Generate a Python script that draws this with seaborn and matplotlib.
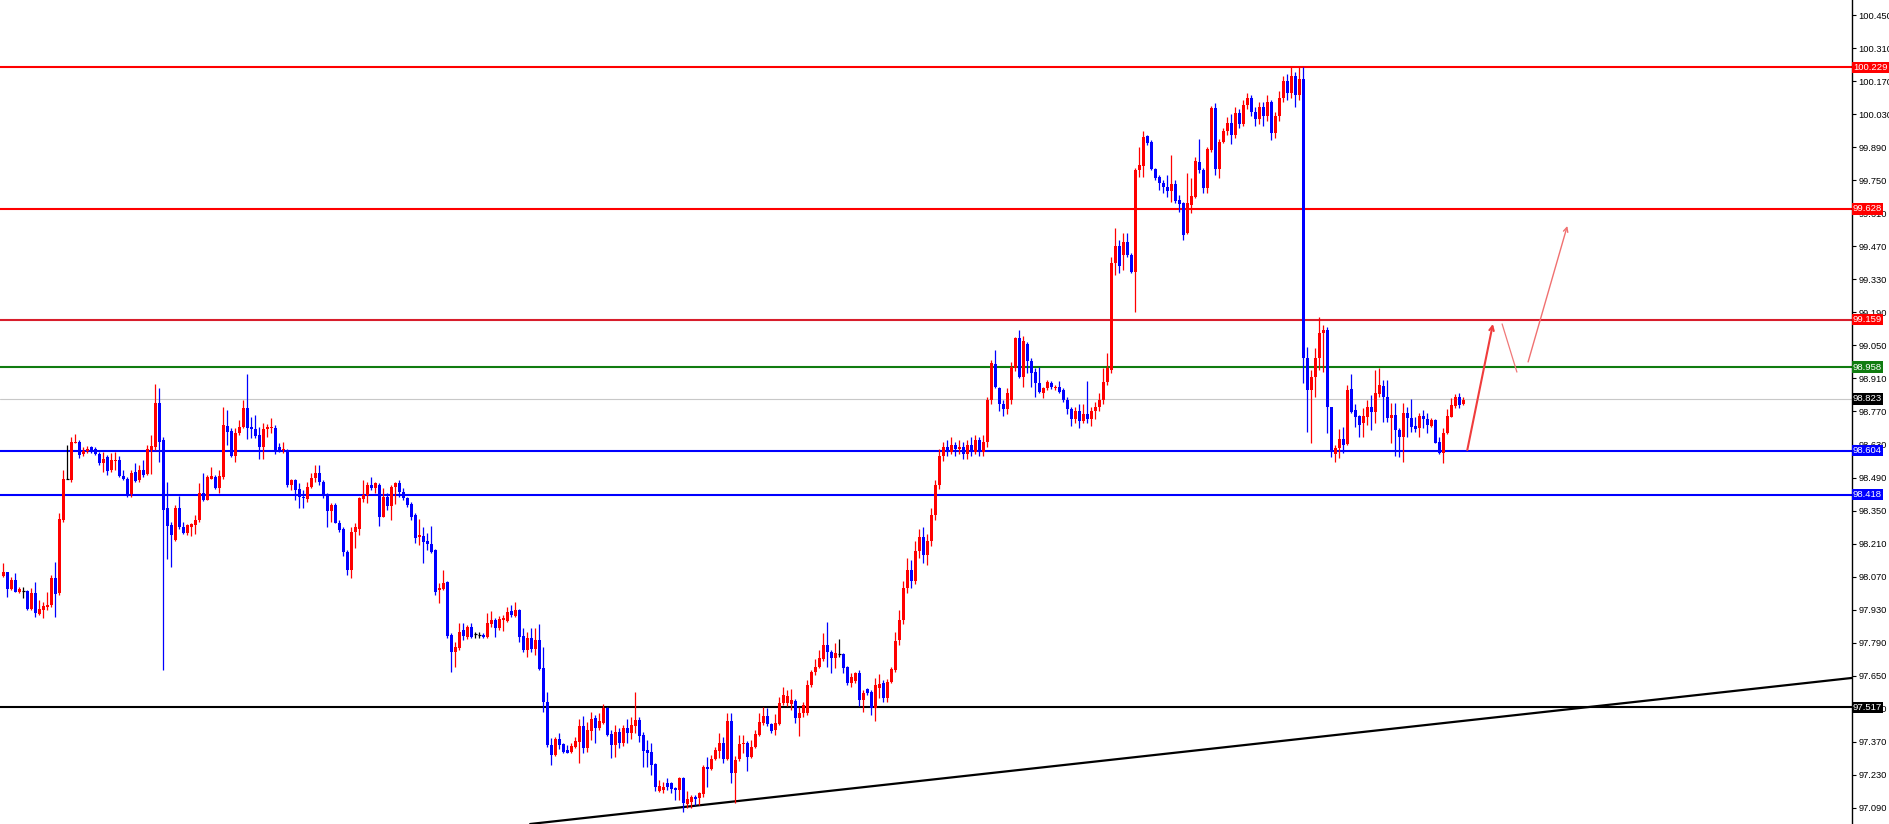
import numpy as np
import pandas as pd
import seaborn as sns
import matplotlib.pyplot as plt
import matplotlib.transforms as mtransforms

# candle data, one entry per bar
opens = [
    98.073, 98.088, 98.016, 98.056, 98.006, 98.010, 98.009, 97.934, 97.999, 97.911,
    97.928, 97.943, 97.950, 98.063, 97.999, 98.310, 98.486, 98.479, 98.635, 98.642,
    98.589, 98.604, 98.618, 98.613, 98.589, 98.553, 98.575, 98.522, 98.562, 98.564,
    98.498, 98.486, 98.420, 98.515, 98.480, 98.522, 98.507, 98.606, 98.621, 98.804,
    98.649, 98.359, 98.289, 98.225, 98.362, 98.282, 98.253, 98.282, 98.289, 98.310,
    98.423, 98.397, 98.486, 98.493, 98.444, 98.493, 98.708, 98.688, 98.581, 98.677,
    98.705, 98.783, 98.705, 98.694, 98.670, 98.618, 98.694, 98.700, 98.702, 98.621,
    98.606, 98.606, 98.458, 98.479, 98.440, 98.409, 98.398, 98.451, 98.490, 98.510,
    98.473, 98.416, 98.350, 98.374, 98.299, 98.270, 98.176, 98.098, 98.261, 98.270,
    98.398, 98.416, 98.459, 98.444, 98.459, 98.324, 98.409, 98.370, 98.451, 98.466,
    98.430, 98.402, 98.377, 98.331, 98.237, 98.242, 98.222, 98.209, 98.183, 98.014,
    98.016, 98.049, 97.823, 97.752, 97.767, 97.844, 97.816, 97.855, 97.827, 97.823,
    97.823, 97.813, 97.870, 97.886, 97.851, 97.886, 97.884, 97.924, 97.903, 97.929,
    97.819, 97.759, 97.809, 97.762, 97.802, 97.682, 97.540, 97.357, 97.314, 97.381,
    97.361, 97.335, 97.329, 97.350, 97.371, 97.437, 97.343, 97.418, 97.470, 97.427,
    97.451, 97.512, 97.403, 97.357, 97.413, 97.364, 97.427, 97.406, 97.437, 97.463,
    97.399, 97.336, 97.329, 97.275, 97.163, 97.166, 97.194, 97.197, 97.173, 97.166,
    97.216, 97.107, 97.117, 97.138, 97.131, 97.149, 97.265, 97.254, 97.296, 97.333,
    97.364, 97.296, 97.460, 97.237, 97.296, 97.361, 97.367, 97.308, 97.347, 97.399,
    97.452, 97.480, 97.446, 97.420, 97.446, 97.533, 97.533, 97.530, 97.545, 97.470,
    97.491, 97.491, 97.611, 97.664, 97.689, 97.720, 97.781, 97.752, 97.724, 97.742,
    97.742, 97.686, 97.621, 97.629, 97.663, 97.548, 97.593, 97.583, 97.512, 97.597,
    97.618, 97.555, 97.625, 97.675, 97.800, 97.886, 98.020, 98.100, 98.050, 98.180,
    98.240, 98.160, 98.220, 98.330, 98.460, 98.580, 98.620, 98.600, 98.630, 98.610,
    98.620, 98.590, 98.630, 98.600, 98.650, 98.600, 98.640, 98.819, 98.971, 98.868,
    98.800, 98.780, 98.819, 98.953, 99.080, 98.918, 99.056, 98.985, 98.939, 98.889,
    98.850, 98.868, 98.892, 98.868, 98.875, 98.861, 98.819, 98.780, 98.740, 98.770,
    98.730, 98.760, 98.740, 98.770, 98.790, 98.819, 98.896, 98.946, 99.398, 99.471,
    99.433, 99.490, 99.433, 99.362, 99.793, 99.810, 99.937, 99.913, 99.796, 99.762,
    99.740, 99.723, 99.706, 99.734, 99.666, 99.655, 99.525, 99.645, 99.677, 99.829,
    99.793, 99.716, 99.878, 100.055, 99.796, 99.913, 99.960, 99.994, 99.942, 100.036,
    99.990, 100.070, 100.100, 100.040, 100.010, 100.060, 100.020, 100.080, 99.950, 100.020,
    100.100, 100.170, 100.120, 100.190, 100.110, 100.180, 98.995, 98.861, 98.918, 98.995,
    99.101, 99.115, 98.788, 98.590, 98.614, 98.652, 98.632, 98.864, 98.776, 98.751,
    98.720, 98.748, 98.791, 98.769, 98.843, 98.878, 98.833, 98.741, 98.755, 98.692,
    98.663, 98.762, 98.741, 98.709, 98.699, 98.751, 98.737, 98.709, 98.734, 98.642,
    98.593, 98.678, 98.748, 98.793, 98.833, 98.800,
]
highs = [
    98.129, 98.091, 98.070, 98.084, 98.027, 98.027, 98.013, 98.020, 98.049, 97.971,
    97.964, 98.005, 98.077, 98.133, 98.341, 98.522, 98.628, 98.663, 98.674, 98.649,
    98.621, 98.623, 98.623, 98.621, 98.599, 98.599, 98.585, 98.595, 98.599, 98.581,
    98.524, 98.493, 98.524, 98.553, 98.543, 98.564, 98.628, 98.670, 98.886, 98.868,
    98.663, 98.472, 98.303, 98.373, 98.411, 98.303, 98.293, 98.298, 98.331, 98.465,
    98.508, 98.500, 98.533, 98.500, 98.522, 98.790, 98.776, 98.698, 98.698, 98.736,
    98.818, 98.929, 98.748, 98.755, 98.705, 98.722, 98.719, 98.741, 98.712, 98.635,
    98.642, 98.609, 98.482, 98.482, 98.465, 98.437, 98.472, 98.508, 98.543, 98.543,
    98.480, 98.423, 98.381, 98.381, 98.310, 98.282, 98.183, 98.282, 98.296, 98.409,
    98.480, 98.472, 98.494, 98.472, 98.466, 98.444, 98.426, 98.459, 98.472, 98.480,
    98.444, 98.409, 98.388, 98.339, 98.313, 98.279, 98.256, 98.285, 98.186, 98.042,
    98.098, 98.053, 97.830, 97.795, 97.872, 97.872, 97.865, 97.872, 97.837, 97.837,
    97.833, 97.917, 97.926, 97.893, 97.903, 97.907, 97.943, 97.950, 97.964, 97.932,
    97.851, 97.837, 97.851, 97.851, 97.869, 97.774, 97.583, 97.385, 97.392, 97.409,
    97.367, 97.357, 97.367, 97.392, 97.466, 97.480, 97.456, 97.498, 97.484, 97.491,
    97.531, 97.519, 97.420, 97.441, 97.427, 97.441, 97.466, 97.474, 97.583, 97.477,
    97.413, 97.378, 97.367, 97.279, 97.208, 97.201, 97.215, 97.201, 97.177, 97.223,
    97.223, 97.163, 97.145, 97.145, 97.159, 97.272, 97.307, 97.314, 97.350, 97.406,
    97.392, 97.491, 97.494, 97.310, 97.399, 97.399, 97.375, 97.378, 97.420, 97.491,
    97.519, 97.512, 97.452, 97.488, 97.562, 97.601, 97.590, 97.593, 97.550, 97.519,
    97.540, 97.632, 97.675, 97.720, 97.760, 97.830, 97.879, 97.759, 97.788, 97.805,
    97.745, 97.692, 97.663, 97.668, 97.675, 97.590, 97.597, 97.590, 97.639, 97.658,
    97.632, 97.635, 97.689, 97.837, 97.930, 98.050, 98.150, 98.140, 98.220, 98.270,
    98.280, 98.250, 98.360, 98.480, 98.610, 98.640, 98.650, 98.660, 98.640, 98.650,
    98.640, 98.650, 98.660, 98.670, 98.660, 98.670, 98.830, 98.988, 99.031, 98.875,
    98.820, 98.870, 98.981, 99.087, 99.115, 99.090, 99.066, 98.995, 98.953, 98.960,
    98.875, 98.903, 98.900, 98.882, 98.900, 98.868, 98.830, 98.790, 98.790, 98.800,
    98.800, 98.900, 98.790, 98.810, 98.850, 98.953, 99.016, 99.426, 99.546, 99.497,
    99.528, 99.525, 99.440, 99.800, 99.889, 99.960, 99.942, 99.920, 99.800, 99.772,
    99.751, 99.772, 99.857, 99.751, 99.687, 99.659, 99.779, 99.758, 99.850, 99.923,
    99.800, 99.892, 100.065, 100.079, 99.923, 99.970, 100.019, 100.031, 100.060, 100.050,
    100.090, 100.120, 100.110, 100.060, 100.080, 100.080, 100.110, 100.090, 100.040, 100.130,
    100.190, 100.200, 100.229, 100.210, 100.229, 100.229, 99.045, 98.946, 99.038, 99.172,
    99.137, 99.130, 98.791, 98.628, 98.694, 98.706, 98.882, 98.929, 98.802, 98.755,
    98.783, 98.819, 98.840, 98.946, 98.953, 98.903, 98.903, 98.805, 98.805, 98.699,
    98.805, 98.790, 98.822, 98.748, 98.762, 98.776, 98.762, 98.741, 98.737, 98.660,
    98.699, 98.779, 98.826, 98.844, 98.847, 98.830,
]
lows = [
    98.070, 97.985, 98.013, 98.003, 97.999, 97.978, 97.928, 97.928, 97.900, 97.907,
    97.897, 97.928, 97.943, 97.900, 97.992, 98.303, 98.482, 98.472, 98.635, 98.571,
    98.581, 98.592, 98.595, 98.585, 98.543, 98.515, 98.500, 98.515, 98.522, 98.493,
    98.480, 98.409, 98.406, 98.472, 98.472, 98.493, 98.500, 98.507, 98.606, 98.557,
    97.674, 98.147, 98.112, 98.222, 98.274, 98.250, 98.246, 98.242, 98.250, 98.303,
    98.392, 98.395, 98.482, 98.440, 98.426, 98.486, 98.628, 98.578, 98.557, 98.670,
    98.698, 98.652, 98.656, 98.656, 98.567, 98.570, 98.663, 98.677, 98.589, 98.599,
    98.592, 98.448, 98.437, 98.397, 98.359, 98.360, 98.388, 98.444, 98.472, 98.459,
    98.402, 98.282, 98.303, 98.296, 98.261, 98.158, 98.077, 98.063, 98.190, 98.247,
    98.388, 98.381, 98.437, 98.423, 98.285, 98.321, 98.353, 98.310, 98.378, 98.409,
    98.395, 98.367, 98.310, 98.211, 98.204, 98.129, 98.183, 98.172, 97.992, 97.957,
    98.014, 97.809, 97.668, 97.689, 97.759, 97.802, 97.804, 97.809, 97.809, 97.809,
    97.809, 97.809, 97.858, 97.816, 97.844, 97.841, 97.879, 97.901, 97.901, 97.795,
    97.752, 97.731, 97.752, 97.738, 97.675, 97.498, 97.350, 97.272, 97.310, 97.339,
    97.322, 97.322, 97.322, 97.343, 97.279, 97.322, 97.329, 97.378, 97.364, 97.420,
    97.446, 97.395, 97.300, 97.307, 97.343, 97.353, 97.364, 97.381, 97.406, 97.371,
    97.265, 97.265, 97.230, 97.163, 97.159, 97.155, 97.166, 97.155, 97.124, 97.124,
    97.074, 97.088, 97.088, 97.102, 97.102, 97.138, 97.180, 97.251, 97.293, 97.300,
    97.282, 97.293, 97.197, 97.110, 97.290, 97.321, 97.248, 97.300, 97.343, 97.395,
    97.441, 97.437, 97.409, 97.399, 97.442, 97.526, 97.522, 97.505, 97.449, 97.395,
    97.477, 97.484, 97.601, 97.654, 97.682, 97.714, 97.689, 97.661, 97.682, 97.728,
    97.661, 97.611, 97.604, 97.621, 97.522, 97.498, 97.569, 97.484, 97.460, 97.555,
    97.540, 97.540, 97.618, 97.668, 97.780, 97.870, 98.000, 98.020, 98.040, 98.150,
    98.130, 98.120, 98.200, 98.310, 98.440, 98.560, 98.580, 98.590, 98.580, 98.590,
    98.570, 98.570, 98.580, 98.590, 98.580, 98.580, 98.620, 98.800, 98.868, 98.770,
    98.750, 98.760, 98.800, 98.940, 98.910, 98.875, 98.932, 98.875, 98.833, 98.847,
    98.826, 98.861, 98.864, 98.861, 98.850, 98.812, 98.760, 98.710, 98.720, 98.700,
    98.720, 98.720, 98.710, 98.740, 98.770, 98.800, 98.882, 98.932, 99.348, 99.355,
    99.370, 99.426, 99.355, 99.193, 99.765, 99.765, 99.899, 99.793, 99.751, 99.709,
    99.694, 99.680, 99.659, 99.652, 99.617, 99.497, 99.522, 99.610, 99.673, 99.779,
    99.694, 99.694, 99.871, 99.772, 99.758, 99.906, 99.942, 99.904, 99.930, 99.970,
    99.980, 100.050, 100.020, 99.980, 99.990, 99.980, 100.000, 99.920, 99.930, 100.000,
    100.080, 100.090, 100.100, 100.060, 100.090, 98.890, 98.685, 98.635, 98.833, 98.946,
    98.939, 98.678, 98.576, 98.557, 98.572, 98.593, 98.628, 98.762, 98.706, 98.663,
    98.663, 98.713, 98.692, 98.723, 98.833, 98.727, 98.727, 98.635, 98.582, 98.579,
    98.557, 98.663, 98.685, 98.685, 98.663, 98.699, 98.678, 98.703, 98.635, 98.590,
    98.553, 98.675, 98.745, 98.783, 98.783, 98.798,
]
closes = [
    98.091, 98.016, 98.056, 98.006, 98.016, 98.010, 97.931, 98.002, 97.914, 97.931,
    97.945, 97.948, 98.063, 97.996, 98.313, 98.486, 98.486, 98.639, 98.642, 98.585,
    98.604, 98.609, 98.604, 98.589, 98.550, 98.567, 98.519, 98.564, 98.566, 98.498,
    98.484, 98.416, 98.510, 98.476, 98.522, 98.500, 98.613, 98.623, 98.804, 98.642,
    98.352, 98.284, 98.246, 98.362, 98.282, 98.253, 98.289, 98.293, 98.310, 98.426,
    98.395, 98.491, 98.496, 98.444, 98.496, 98.712, 98.684, 98.581, 98.680, 98.705,
    98.783, 98.698, 98.694, 98.666, 98.621, 98.694, 98.705, 98.705, 98.604, 98.606,
    98.613, 98.458, 98.479, 98.437, 98.409, 98.402, 98.451, 98.490, 98.508, 98.473,
    98.416, 98.350, 98.374, 98.299, 98.268, 98.176, 98.098, 98.261, 98.282, 98.402,
    98.416, 98.459, 98.444, 98.466, 98.324, 98.409, 98.370, 98.451, 98.466, 98.430,
    98.402, 98.374, 98.324, 98.232, 98.247, 98.218, 98.209, 98.176, 98.007, 98.021,
    98.045, 97.819, 97.752, 97.774, 97.837, 97.819, 97.855, 97.816, 97.827, 97.823,
    97.813, 97.875, 97.886, 97.851, 97.889, 97.893, 97.922, 97.908, 97.929, 97.816,
    97.759, 97.809, 97.762, 97.802, 97.677, 97.540, 97.357, 97.314, 97.381, 97.357,
    97.329, 97.324, 97.353, 97.375, 97.437, 97.343, 97.420, 97.466, 97.427, 97.460,
    97.512, 97.399, 97.357, 97.413, 97.367, 97.427, 97.406, 97.442, 97.463, 97.395,
    97.333, 97.321, 97.272, 97.180, 97.183, 97.180, 97.177, 97.169, 97.166, 97.216,
    97.112, 97.127, 97.138, 97.127, 97.152, 97.265, 97.254, 97.296, 97.336, 97.364,
    97.296, 97.460, 97.237, 97.293, 97.361, 97.367, 97.308, 97.350, 97.403, 97.456,
    97.480, 97.446, 97.418, 97.449, 97.533, 97.569, 97.565, 97.548, 97.470, 97.491,
    97.526, 97.611, 97.668, 97.689, 97.724, 97.781, 97.752, 97.724, 97.748, 97.742,
    97.682, 97.618, 97.643, 97.663, 97.548, 97.579, 97.579, 97.512, 97.611, 97.615,
    97.555, 97.625, 97.678, 97.799, 97.886, 98.020, 98.100, 98.050, 98.180, 98.240,
    98.160, 98.220, 98.330, 98.460, 98.580, 98.620, 98.600, 98.630, 98.610, 98.620,
    98.590, 98.630, 98.600, 98.650, 98.600, 98.640, 98.820, 98.974, 98.875, 98.800,
    98.780, 98.850, 98.960, 99.080, 98.918, 99.070, 98.985, 98.932, 98.889, 98.854,
    98.868, 98.896, 98.872, 98.875, 98.854, 98.819, 98.780, 98.740, 98.770, 98.730,
    98.760, 98.740, 98.770, 98.790, 98.820, 98.896, 98.953, 99.401, 99.471, 99.387,
    99.490, 99.433, 99.362, 99.793, 99.815, 99.935, 99.909, 99.796, 99.758, 99.737,
    99.720, 99.706, 99.734, 99.663, 99.649, 99.518, 99.652, 99.683, 99.833, 99.793,
    99.716, 99.881, 100.055, 99.796, 99.913, 99.960, 99.994, 99.942, 100.036, 99.990,
    100.070, 100.100, 100.040, 100.010, 100.060, 100.020, 100.080, 99.950, 100.020, 100.100,
    100.170, 100.120, 100.190, 100.110, 100.180, 98.995, 98.861, 98.918, 98.995, 99.101,
    99.115, 98.791, 98.607, 98.614, 98.652, 98.628, 98.861, 98.769, 98.748, 98.713,
    98.751, 98.791, 98.769, 98.847, 98.882, 98.833, 98.741, 98.755, 98.692, 98.663,
    98.762, 98.741, 98.706, 98.695, 98.751, 98.737, 98.713, 98.734, 98.638, 98.596,
    98.678, 98.751, 98.798, 98.833, 98.798, 98.819,
]

# horizontal levels drawn on the chart
level_prices = [100.229, 99.628, 99.159, 98.958, 98.823, 98.604, 98.418, 97.517]
level_labels = ["100.229", "99.628", "99.159", "98.958", "98.823", "98.604", "98.418", "97.517"]
level_colors = ["#ff0000", "#ff0000", "#d81e2c", "#107c10", "#c8c8c8", "#0000ff", "#0000ff", "#000000"]
box_colors = ["#ff0000", "#ff0000", "#ff0000", "#107c10", "#000000", "#0000ff", "#0000ff", "#000000"]

# price scale ticks
tick_labels = ["100.450", "100.310", "100.170", "100.030", "99.890", "99.750", "99.610",
               "99.470", "99.330", "99.190", "99.050", "98.910", "98.770", "98.630",
               "98.490", "98.350", "98.210", "98.070", "97.930", "97.790", "97.650",
               "97.510", "97.370", "97.230", "97.090"]

# rising trend line (bar index, price)
trend_idx = [131.7, 462.2]
trend_price = [97.022, 97.641]

# hand drawn projection arrows (bar index, price)
arrow_start_idx = [366.0, 374.7, 381.2]
arrow_start_price = [98.607, 99.141, 98.980]
arrow_end_idx = [372.4, 378.4, 391.0]
arrow_end_price = [99.141, 98.937, 99.556]


def draw_candles(ax, df):
    up = df["close"] > df["open"]
    down = df["close"] < df["open"]
    doji = ~(up | down)
    colors = np.where(up, "#ff0000", np.where(down, "#0000ff", "#000000"))

    ax.vlines(df.index, df["low"], df["high"], colors=colors, linewidth=0.9, zorder=3)

    bottom = np.minimum(df["open"], df["close"])
    height = np.maximum(np.abs(df["close"] - df["open"]), 0.004)
    ax.bar(df.index[~doji], height[~doji], bottom=bottom[~doji], width=0.7,
           color=colors[~doji], linewidth=0, zorder=4)
    ax.hlines(df["close"][doji], df.index[doji] - 0.4, df.index[doji] + 0.4,
              colors="#000000", linewidth=0.9, zorder=4)


if __name__ == '__main__':

    sns.set_style("white")
    plt.rcParams["font.family"] = ["Liberation Sans", "DejaVu Sans"]

    df = pd.DataFrame({"open": opens, "high": highs, "low": lows, "close": closes})

    W, H = 1889, 824
    axis_px = 1852
    fig = plt.figure(figsize=(W / 100, H / 100), dpi=100)
    ax = fig.add_axes([0, 0, axis_px / W, 1])

    # bar i sits at pixel 3.3 + 4 i
    ax.set_xlim(-3.3 / 4, (axis_px - 3.3) / 4)
    ax.set_ylim(97.022, 100.5136)

    for price, col in zip(level_prices, level_colors):
        lw = 0.8 if col == "#c8c8c8" else 1.5
        ax.axhline(price, color=col, linewidth=lw, zorder=2)

    sns.lineplot(x=trend_idx, y=trend_price, color="black", linewidth=1.6, ax=ax, zorder=2)

    draw_candles(ax, df)

    for k in range(len(arrow_start_idx)):
        if k == 1:
            ax.plot([arrow_start_idx[k], arrow_end_idx[k]], [arrow_start_price[k], arrow_end_price[k]],
                    color="#f07878", linewidth=0.9, zorder=5)
        else:
            col = "#f03c3c" if k == 0 else "#f07070"
            lw = 1.5 if k == 0 else 1.0
            ax.annotate("", xy=(arrow_end_idx[k], arrow_end_price[k]),
                        xytext=(arrow_start_idx[k], arrow_start_price[k]),
                        arrowprops=dict(arrowstyle="->", color=col, lw=lw,
                                        mutation_scale=8, shrinkA=0, shrinkB=0),
                        zorder=5)

    # right price scale
    tick_vals = [float(t) for t in tick_labels]
    ax.yaxis.tick_right()
    ax.set_yticks(tick_vals)
    ax.set_yticklabels(tick_labels)
    ax.tick_params(axis="y", direction="out", length=3, width=0.8, pad=1.5,
                   labelsize=6.7, colors="black")
    ax.set_xticks([])
    for side in ["top", "left", "bottom"]:
        ax.spines[side].set_visible(False)
    ax.spines["right"].set_color("black")
    ax.spines["right"].set_linewidth(1.0)

    trans = mtransforms.blended_transform_factory(ax.transAxes, ax.transData)
    for price, lab, bc in zip(level_prices, level_labels, box_colors):
        ax.text(1.0 + 1.0 / axis_px, price, lab, transform=trans, ha="left", va="center",
                fontsize=6.8, color="white", clip_on=False, zorder=10,
                bbox=dict(boxstyle="square,pad=0.12", facecolor=bc, edgecolor="none"))

    fig.savefig("out.png", dpi=100, facecolor="white")
